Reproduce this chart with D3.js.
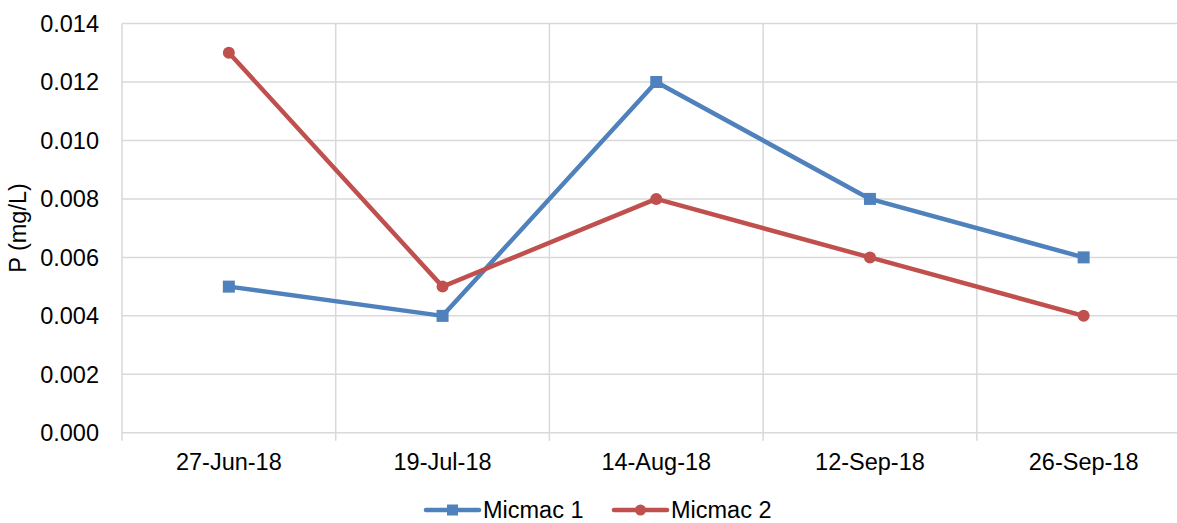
<!DOCTYPE html>
<html><head><meta charset="utf-8">
<script src="https://cdn.jsdelivr.net/npm/d3@7"></script>
<style>body{margin:0;background:#fff;overflow:hidden}svg{display:block;font-family:"Liberation Sans",Arial,sans-serif}</style>
</head><body><svg id="c" width="1177" height="523"></svg>
<script>
const categories = ["27-Jun-18","19-Jul-18","14-Aug-18","12-Sep-18","26-Sep-18"];
const micmac1 = [0.005,0.004,0.012,0.008,0.006];
const micmac2 = [0.013,0.005,0.008,0.006,0.004];
const yTicks = [0,0.002,0.004,0.006,0.008,0.010,0.012,0.014];
const seriesNames = ["Micmac 1","Micmac 2"];
const colors = ["#4F81BD","#C0504D"];

(function(){
const svg = d3.select("#c");
const pL = 122, pR = 1190.5, pT = 23.5, pB = 432.8;
const fs = 23.5;
const x = d3.scaleBand().domain(categories).range([pL,pR]);
const y = d3.scaleLinear().domain([0,0.014]).range([pB,pT]);
const grid = "#d9d9d9";

svg.append("g").selectAll("line").data(yTicks).join("line")
  .attr("x1",pL).attr("x2",pR).attr("y1",d=>y(d)).attr("y2",d=>y(d))
  .attr("stroke",grid).attr("stroke-width",1.5);
const bounds = categories.map(c=>x(c)).concat([pR]);
svg.append("g").selectAll("line").data(bounds).join("line")
  .attr("x1",d=>d).attr("x2",d=>d).attr("y1",pT).attr("y2",pB+8)
  .attr("stroke",grid).attr("stroke-width",1.5);

svg.append("g").selectAll("text").data(yTicks).join("text")
  .attr("x",99).attr("y",d=>y(d)).attr("dy","0.35em").attr("text-anchor","end")
  .attr("font-size",fs).attr("fill","#000").text(d=>d3.format(".3f")(d));
svg.append("g").selectAll("text").data(categories).join("text")
  .attr("x",d=>x(d)+x.bandwidth()/2).attr("y",462).attr("dy","0.35em").attr("text-anchor","middle")
  .attr("font-size",fs).attr("fill","#000").text(d=>d);
svg.append("text").attr("transform","translate(26,228) rotate(-90)").attr("text-anchor","middle")
  .attr("font-size",fs).attr("fill","#000").text("P (mg/L)");

const line = d3.line().x((d,i)=>x(categories[i])+x.bandwidth()/2).y(d=>y(d));
[micmac1,micmac2].forEach((s,k)=>{
  svg.append("path").datum(s).attr("d",line).attr("fill","none")
    .attr("stroke",colors[k]).attr("stroke-width",4.5).attr("stroke-linejoin","round");
  const g = svg.append("g");
  if(k===0){
    g.selectAll("rect").data(s).join("rect")
      .attr("x",(d,i)=>x(categories[i])+x.bandwidth()/2-6).attr("y",d=>y(d)-6)
      .attr("width",12).attr("height",12).attr("fill",colors[k]);
  } else {
    g.selectAll("circle").data(s).join("circle")
      .attr("cx",(d,i)=>x(categories[i])+x.bandwidth()/2).attr("cy",d=>y(d))
      .attr("r",6).attr("fill",colors[k]);
  }
});

const ly = 510;
const lg = [{x:426,name:seriesNames[0]},{x:614,name:seriesNames[1]}];
lg.forEach((d,k)=>{
  const g = svg.append("g");
  g.append("line").attr("x1",d.x).attr("x2",d.x+53).attr("y1",ly).attr("y2",ly)
    .attr("stroke",colors[k]).attr("stroke-width",4.5).attr("stroke-linecap","round");
  if(k===0) g.append("rect").attr("x",d.x+26.5-5.5).attr("y",ly-5.5).attr("width",11).attr("height",11).attr("fill",colors[k]);
  else g.append("circle").attr("cx",d.x+26.5).attr("cy",ly).attr("r",5.5).attr("fill",colors[k]);
  g.append("text").attr("x",d.x+57).attr("y",ly).attr("dy","0.35em").attr("font-size",fs).attr("fill","#000").text(d.name);
});
})();
</script></body></html>
